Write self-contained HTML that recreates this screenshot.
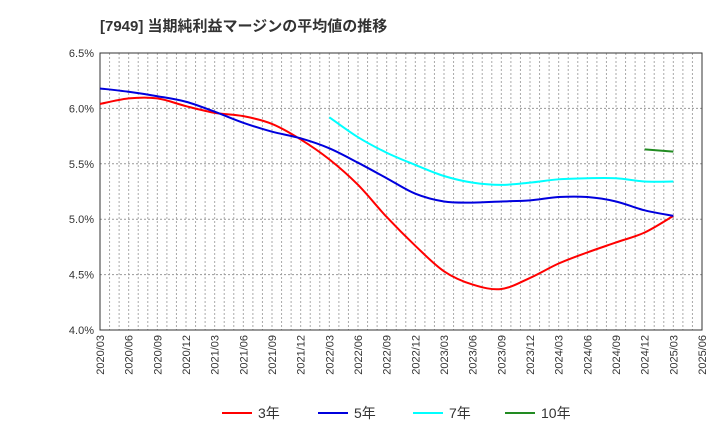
<!DOCTYPE html>
<html><head><meta charset="utf-8"><style>
body{margin:0;background:#fff;font-family:"Liberation Sans","Noto Sans CJK JP",sans-serif}
svg text{font-family:"Liberation Sans","Noto Sans CJK JP",sans-serif}
</style></head><body>
<svg id="c" width="720" height="440">
<text x="100" y="31" font-size="15" font-weight="bold" fill="#333">[7949]  当期純利益マージンの平均値の推移</text>
<g id="grid"></g><g id="axes"></g><g id="lines"></g><g id="legend"></g>
</svg>
<script>
const xLabels=["2020/03","2020/06","2020/09","2020/12","2021/03","2021/06","2021/09","2021/12","2022/03","2022/06","2022/09","2022/12","2023/03","2023/06","2023/09","2023/12","2024/03","2024/06","2024/09","2024/12","2025/03","2025/06"];
const yTicks=[4.0,4.5,5.0,5.5,6.0,6.5];
const s3=[6.04,6.09,6.09,6.02,5.96,5.93,5.86,5.72,5.54,5.31,5.02,4.76,4.53,4.41,4.37,4.47,4.60,4.70,4.79,4.88,5.03];
const s5=[6.18,6.15,6.11,6.06,5.97,5.87,5.79,5.73,5.64,5.51,5.37,5.23,5.16,5.15,5.16,5.17,5.20,5.20,5.16,5.08,5.03];
const s7=[null,null,null,null,null,null,null,null,5.92,5.74,5.60,5.49,5.39,5.33,5.31,5.33,5.36,5.37,5.37,5.34,5.34];
const s10=[null,null,null,null,null,null,null,null,null,null,null,null,null,null,null,null,null,null,null,5.63,5.61];
const L=100,R=702,T=53,B=330;
const X=i=>L+i*(R-L)/21;
const Y=v=>B-(v-4.0)/2.5*(B-T);
const NS="http://www.w3.org/2000/svg";
function mk(tag,attrs,parent){const e=document.createElementNS(NS,tag);for(const k in attrs)e.setAttribute(k,attrs[k]);parent.appendChild(e);return e;}
const grid=document.getElementById('grid'),axes=document.getElementById('axes'),lines=document.getElementById('lines'),legend=document.getElementById('legend');
for(let m=1;m<63;m++){const x=L+m*(R-L)/63;const g=mk('line',{x1:x,x2:x,y1:T,y2:B,stroke:'#aaa','stroke-dasharray':'2,2','stroke-width':1},grid);

}
yTicks.forEach(v=>{const y=Y(v);const g=mk('line',{x1:L,x2:R,y1:y,y2:y,stroke:'#999','stroke-dasharray':'2,2'},grid);


const t=mk('text',{x:L-6,y:y+4,'text-anchor':'end','font-size':11,fill:'#333'},axes);t.textContent=v.toFixed(1)+'%';

});
const fr=mk('rect',{x:L,y:T,width:R-L,height:B-T,fill:'none',stroke:'#333'},axes);


xLabels.forEach((lb,i)=>{const x=X(i);const t=mk('text',{transform:`translate(${x+4},${B+5}) rotate(-90)`,'text-anchor':'end','font-size':11,fill:'#333'},axes);t.textContent=lb;

});
function path(arr){const p=[];arr.forEach((v,i)=>{if(v!=null)p.push([X(i),Y(v)]);});
let d=`M${p[0][0]},${p[0][1]}`;for(let i=0;i<p.length-1;i++){const p0=p[i-1]||p[i],p1=p[i],p2=p[i+1],p3=p[i+2]||p2;
d+=` C${p1[0]+(p2[0]-p0[0])/6},${p1[1]+(p2[1]-p0[1])/6} ${p2[0]-(p3[0]-p1[0])/6},${p2[1]-(p3[1]-p1[1])/6} ${p2[0]},${p2[1]}`;}return d;}
const series=[[s3,'#ff0000','3年','line-3yr'],[s5,'#0000dd','5年','line-5yr'],[s7,'#00ffff','7年','line-7yr'],[s10,'#228b22','10年','line-10yr']];
series.forEach(([a,c,n,nm])=>{const e=mk('path',{d:path(a),fill:'none',stroke:c,'stroke-width':2},lines);

});
const lx=[222,318,413,505];
series.forEach(([a,c,n,nm],k)=>{const g=mk('g',{},legend);


mk('line',{x1:lx[k],x2:lx[k]+30,y1:413,y2:413,stroke:c,'stroke-width':2},g);
const t=mk('text',{x:lx[k]+36,y:418,'font-size':14,fill:'#333'},g);t.textContent=n;});
</script>
</body></html>
